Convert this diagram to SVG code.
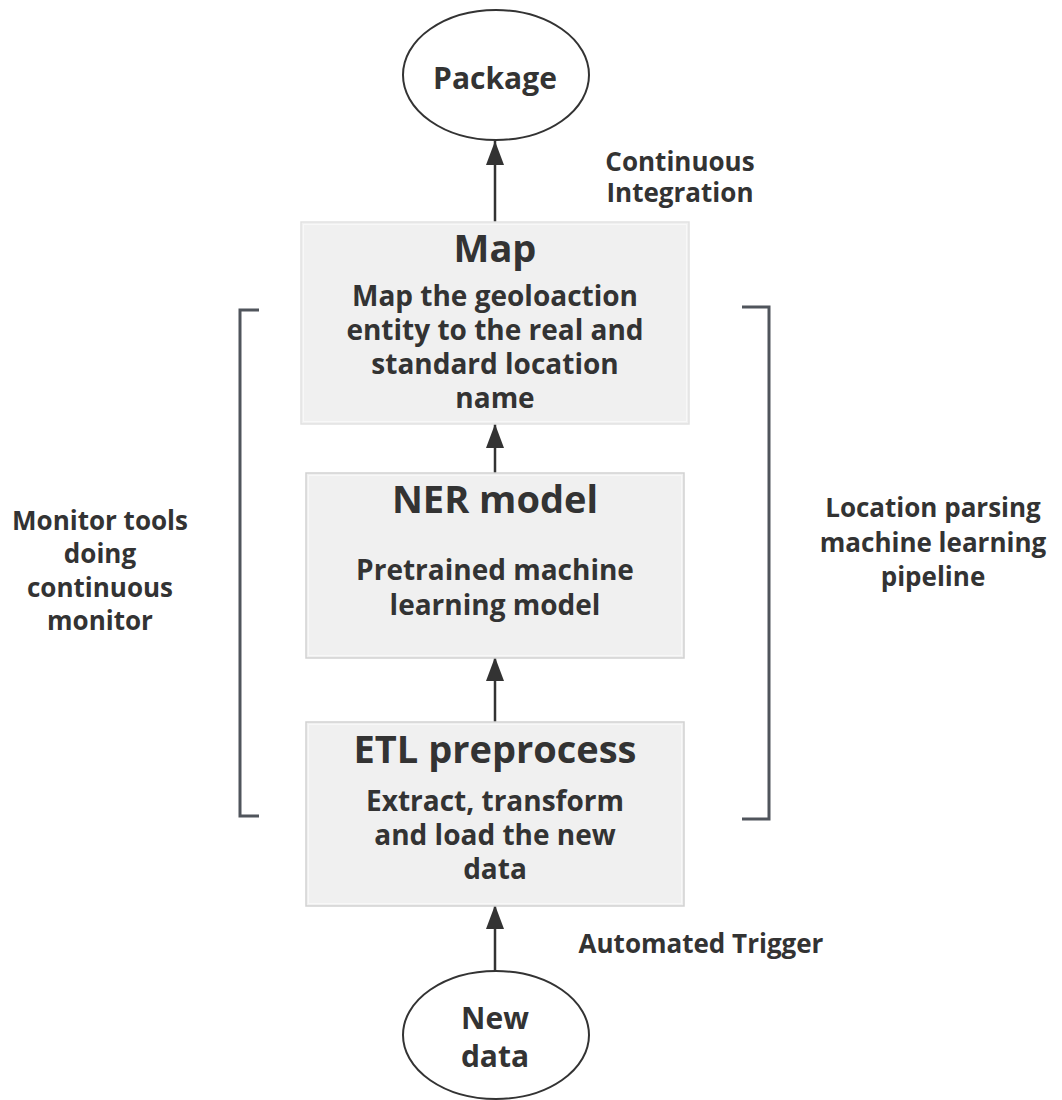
<svg xmlns="http://www.w3.org/2000/svg" width="1062" height="1100" viewBox="0 0 1062 1100">
  <defs>
    <marker id="arrow" viewBox="0 0 24 18" refX="24" refY="9" markerWidth="24" markerHeight="18" markerUnits="userSpaceOnUse" orient="auto">
      <path d="M0,0 L24,9 L0,18 Z" fill="#333"/>
    </marker>
    <style>
      text { font-family: "Open Sans", "Liberation Sans", sans-serif; font-weight: 700; fill: #333; text-anchor: middle; }
      .title { font-size: 38px; }
      .body { font-size: 28px; }
      .label { font-size: 26px; }
      .term { font-size: 30px; }
      .box { fill: #f0f0f0; stroke: #d2d2d2; stroke-width: 1.5; }
      .box-inner { fill: none; stroke: #f8f8f8; stroke-width: 1; }
      .terminal { fill: #fff; stroke: #333; stroke-width: 2; }
      .edge { stroke: #333; stroke-width: 2.5; fill: none; marker-end: url(#arrow); }
      .bracket { stroke: #50555c; stroke-width: 3; fill: none; }
    </style>
  </defs>
  <rect width="1062" height="1100" fill="#fff"/>

  <!-- pipeline brackets -->
  <path class="bracket" d="M259,310 H240 V816 H259"/>
  <path class="bracket" d="M742,307 H769 V819 H742"/>

  <g id="connectors">
    <line class="edge" x1="495" y1="222" x2="495" y2="141"/>
    <line class="edge" x1="495" y1="473" x2="495" y2="424"/>
    <line class="edge" x1="495" y1="722" x2="495" y2="657"/>
    <line class="edge" x1="495" y1="971" x2="495" y2="905"/>
  </g>

  <g id="package">
    <ellipse class="terminal" cx="496" cy="75" rx="93" ry="65"/>
    <text class="term" x="495" y="89">Package</text>
  </g>

  <g id="map">
    <rect class="box" x="301" y="222" width="388" height="202" style="stroke:#e2e2e2"/>
    <rect class="box-inner" x="303.5" y="224.5" width="383" height="197"/>
    <text class="title" x="495" y="262">Map</text>
    <text class="body" x="495" y="306">Map the geoloaction</text>
    <text class="body" x="495" y="340">entity to the real and</text>
    <text class="body" x="495" y="374">standard location</text>
    <text class="body" x="495" y="408">name</text>
  </g>

  <g id="ner-model">
    <rect class="box" x="306" y="473" width="378" height="185"/>
    <rect class="box-inner" x="308.5" y="475.5" width="373" height="180"/>
    <text class="title" x="495" y="513">NER model</text>
    <text class="body" x="495" y="580">Pretrained machine</text>
    <text class="body" x="495" y="615">learning model</text>
  </g>

  <g id="etl-preprocess">
    <rect class="box" x="306" y="722" width="378" height="184"/>
    <rect class="box-inner" x="308.5" y="724.5" width="373" height="179"/>
    <text class="title" x="495" y="763">ETL preprocess</text>
    <text class="body" x="495" y="811">Extract, transform</text>
    <text class="body" x="495" y="845">and load the new</text>
    <text class="body" x="495" y="879">data</text>
  </g>

  <g id="new-data">
    <ellipse class="terminal" cx="496" cy="1035" rx="93" ry="64"/>
    <text class="term" x="495" y="1029">New</text>
    <text class="term" x="495" y="1067">data</text>
  </g>

  <g id="labels">
    <text class="label" x="680" y="171">Continuous</text>
    <text class="label" x="680" y="202">Integration</text>
    <text class="label" x="701" y="953">Automated Trigger</text>
    <text class="label" x="100" y="530">Monitor tools</text>
    <text class="label" x="100" y="563">doing</text>
    <text class="label" x="100" y="597">continuous</text>
    <text class="label" x="100" y="630">monitor</text>
    <text class="label" x="933" y="517">Location parsing</text>
    <text class="label" x="933" y="552">machine learning</text>
    <text class="label" x="933" y="586">pipeline</text>
  </g>
</svg>
